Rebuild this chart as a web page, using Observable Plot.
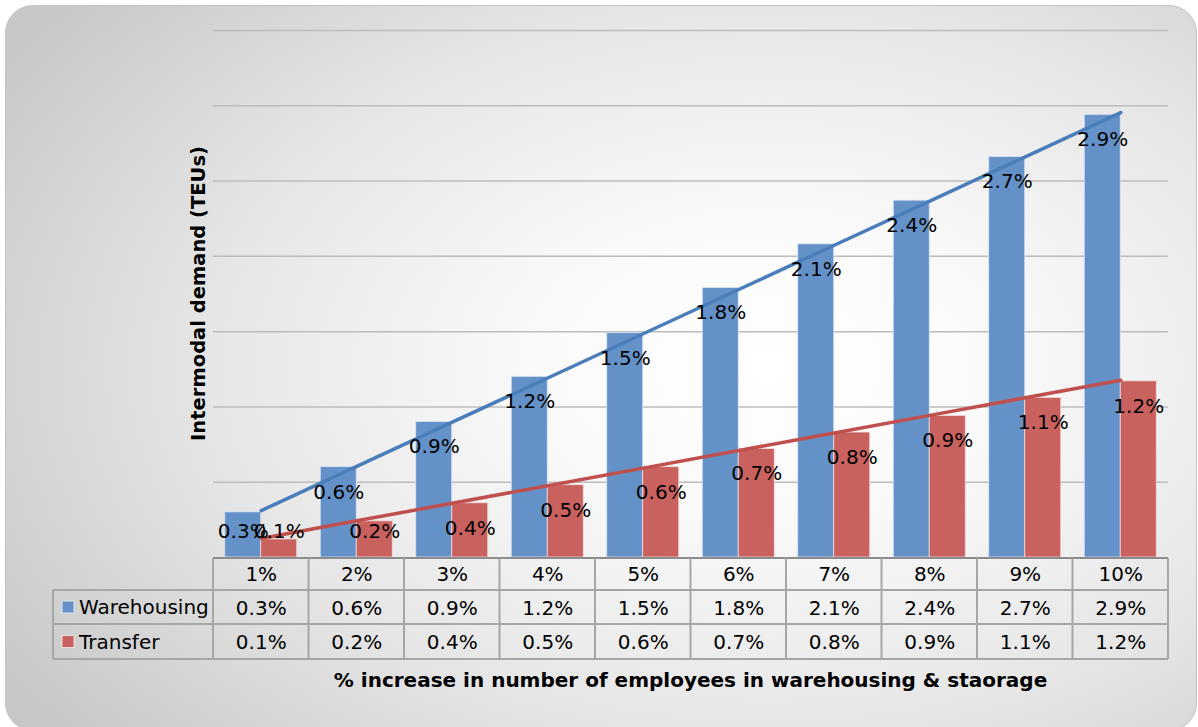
<!DOCTYPE html>
<html><head><meta charset="utf-8">
<script src="https://cdn.jsdelivr.net/npm/d3@7"></script>
<script src="https://cdn.jsdelivr.net/npm/@observablehq/plot@0.6"></script>
<style>
html,body{margin:0;padding:0;background:#fff;}
#wrap{position:relative;width:1198px;height:727px;overflow:hidden;font-family:"DejaVu Sans",sans-serif;}
#bg{position:absolute;left:5px;top:5px;width:1190px;height:724px;border-radius:28px;border:1px solid #c2c2c2;
 background:radial-gradient(ellipse 75% 80% at 64% 50%, #ffffff 0%, #fafafa 25%, #e6e6e6 62%, #c8c8c8 100%);}
#chart{position:absolute;left:0;top:0;}
</style></head><body>
<div id="wrap"><div id="bg"></div><div id="chart"></div></div>
<script>
const categories = ["1%","2%","3%","4%","5%","6%","7%","8%","9%","10%"];
const warehousing = [0.30,0.60,0.90,1.20,1.49,1.79,2.08,2.37,2.66,2.94];
const transfer = [0.12,0.24,0.36,0.48,0.60,0.72,0.83,0.94,1.06,1.17];
const seriesNames = ["Warehousing","Transfer"];
const barColors = ["#6492c8","#c9625f"];
const trendColors = ["#4a7ebb","#c0504d"];
const yGrid = [0.5,1,1.5,2,2.5,3,3.5];
const xTitle = "% increase in number of employees in warehousing & staorage";
const yTitle = "Intermodal demand (TEUs)";

const seriesValues = [warehousing, transfer];
function linearFit(vals){
  const xs = vals.map((_,i)=>i+1);
  const mx = d3.mean(xs), my = d3.mean(vals);
  const b = d3.sum(xs.map((x,i)=>(x-mx)*(vals[i]-my))) / d3.sum(xs.map(x=>(x-mx)**2));
  return xs.map(x => my + b*(x-mx));
}
const rows = [], trends = [];
seriesNames.forEach((s,k)=>{
  const fit = linearFit(seriesValues[k]);
  categories.forEach((c,i)=>{
    rows.push({cat:c, series:s, k, value:seriesValues[k][i]});
    trends.push({cat:c, series:s, k, fit:fit[i]});
  });
});
const fmt = v => (Math.round(v*10)/10).toFixed(1) + "%";

const W=1198, H=727, mL=213, mR=30, mT=30, mB=170;
const pI=0.246, pO=0.123;
const step = (W-mL-mR)/(categories.length - pI + 2*pO);
const bw = step*(1-pI);
const FONT = "DejaVu Sans";
const FS = 20;

const plot = Plot.plot({
  width:W, height:H, marginLeft:mL, marginRight:mR, marginTop:mT, marginBottom:mB,
  style:{background:"transparent", fontFamily:FONT, fontSize:FS+"px", color:"#000", overflow:"visible"},
  x:{domain:categories, paddingInner:pI, paddingOuter:pO, round:false, axis:null},
  y:{domain:[0,3.5], axis:null},
  marks:[
    Plot.ruleY(yGrid, {stroke:"#bcbcbc", strokeWidth:1.5}),
    Plot.barY(rows.filter(d=>d.k===0), {x:"cat", y:"value", fill:barColors[0], insetRight:bw/2, stroke:"#dce6f2", strokeWidth:0.8}),
    Plot.barY(rows.filter(d=>d.k===1), {x:"cat", y:"value", fill:barColors[1], insetLeft:bw/2, stroke:"#f2dcdb", strokeWidth:0.8}),
    Plot.line(trends.filter(d=>d.k===0), {x:"cat", y:"fit", stroke:trendColors[0], strokeWidth:3.5}),
    Plot.line(trends.filter(d=>d.k===1), {x:"cat", y:"fit", stroke:trendColors[1], strokeWidth:3.5}),
    Plot.text(rows.filter(d=>d.k===0), {x:"cat", y:d=>Math.max(d.value,0.34), dx:-bw/4, dy:25, text:d=>fmt(d.value), fill:"#000", fontSize:FS}),
    Plot.text(rows.filter(d=>d.k===1), {x:"cat", y:d=>Math.max(d.value,0.34), dx:bw/4, dy:25, text:d=>fmt(d.value), fill:"#000", fontSize:FS}),
    Plot.text(categories, {x:d=>d, frameAnchor:"bottom", lineAnchor:"middle", dy:17.5, text:d=>d, fill:"#000", fontSize:FS}),
    Plot.text(rows.filter(d=>d.k===0), {x:"cat", frameAnchor:"bottom", lineAnchor:"middle", dy:51, text:d=>fmt(d.value), fill:"#000", fontSize:FS}),
    Plot.text(rows.filter(d=>d.k===1), {x:"cat", frameAnchor:"bottom", lineAnchor:"middle", dy:85, text:d=>fmt(d.value), fill:"#000", fontSize:FS})
  ]
});
document.getElementById("chart").appendChild(plot);

// data table grid, legend keys and titles, aligned on the plot's x scale
const xs = plot.scale("x");
const svg = d3.select(plot);
const base = H - mB;
const x0 = xs.apply(categories[0]) - xs.step*pO, x1 = W - mR;
const rowY = [base+1, base+33, base+67, base+102];
const g = svg.append("g").attr("stroke","#a6a6a6").attr("stroke-width",2).attr("fill","none");
g.append("line").attr("x1",x0).attr("x2",x1).attr("y1",rowY[0]).attr("y2",rowY[0]).attr("stroke","#8c8c8c");
[1,2,3].forEach(r=>{
  g.append("line").attr("x1",53).attr("x2",x1).attr("y1",rowY[r]).attr("y2",rowY[r]);
});
for (let k=0;k<=categories.length;k++){
  const xv = x0 + k*xs.step;
  g.append("line").attr("x1",xv).attr("x2",xv).attr("y1",rowY[0]).attr("y2",rowY[3]);
}
g.append("line").attr("x1",53).attr("x2",53).attr("y1",rowY[1]).attr("y2",rowY[3]);
seriesNames.forEach((s,k)=>{
  const cy = (rowY[k+1]+rowY[k+2])/2;
  svg.append("rect").attr("x",62).attr("y",cy-6).attr("width",12).attr("height",12)
    .attr("fill",barColors[k]).attr("stroke", k===0?"#dce6f2":"#f2dcdb").attr("stroke-width",1);
  svg.append("text").attr("x",79).attr("y",cy).attr("dy","0.36em").attr("text-anchor","start")
    .attr("font-family",FONT).attr("font-size",FS).attr("fill","#000").text(s);
});
svg.append("text").attr("x",(x0+x1)/2).attr("y",680).attr("dy","0.36em").attr("text-anchor","middle")
  .attr("font-family",FONT).attr("font-size",20).attr("font-weight","bold").attr("fill","#000").text(xTitle);
svg.append("text").attr("transform","translate(198,"+((mT+base)/2)+") rotate(-90)").attr("dy","0.36em")
  .attr("text-anchor","middle").attr("font-family",FONT).attr("font-size",19.5).attr("font-weight","bold")
  .attr("fill","#000").text(yTitle);
</script>
</body></html>
